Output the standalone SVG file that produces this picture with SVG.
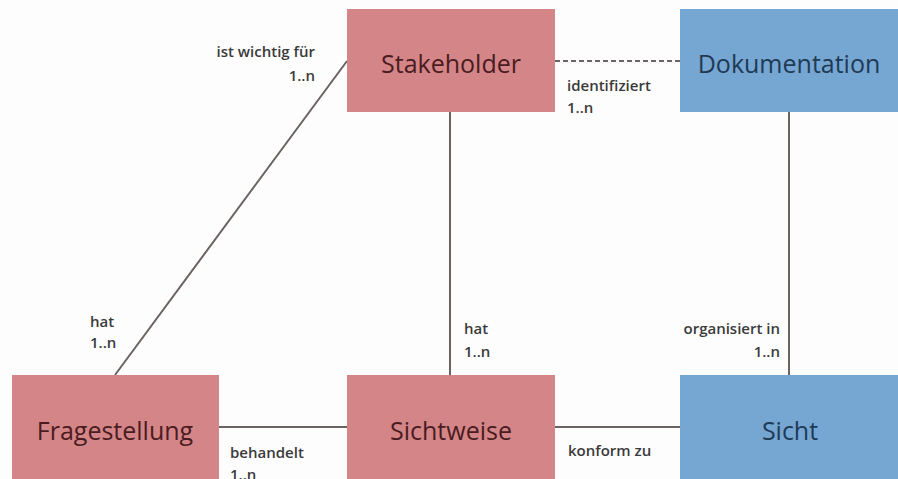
<svg xmlns="http://www.w3.org/2000/svg" width="898" height="479" viewBox="0 0 898 479">
<style>
.bg{fill:#fdfdfd}
.pink rect{fill:#d48588}
.blue rect{fill:#76a6d2}
.pink text{fill:#4a1c20}
.blue text{fill:#1e3a56}
.node text{font-family:"Open Sans","DejaVu Sans",sans-serif;font-size:25px;text-anchor:middle}
.conn line{stroke:#6b6262;stroke-width:2;fill:none}
.conn .dash{stroke-dasharray:5 3}
.lbl{font-family:"Open Sans","DejaVu Sans",sans-serif;font-size:15px;font-weight:600;fill:#3a3a3a}
.r{text-anchor:end}
</style>
<rect class="bg" x="0" y="0" width="898" height="479"/>
<g id="connectors" class="conn">
<line x1="115" y1="375" x2="347" y2="61"/>
<line x1="450" y1="112" x2="450" y2="375"/>
<line class="dash" x1="555" y1="61" x2="680" y2="61"/>
<line x1="789" y1="112" x2="789" y2="375"/>
<line x1="219" y1="427" x2="347" y2="427"/>
<line x1="555" y1="427" x2="680" y2="427"/>
</g>
<g id="labels">
<text class="lbl r" x="315" y="57">ist wichtig für</text>
<text class="lbl r" x="315" y="81">1..n</text>
<text class="lbl" x="567" y="91">identifiziert</text>
<text class="lbl" x="567" y="113">1..n</text>
<text class="lbl" x="90" y="327">hat</text>
<text class="lbl" x="90" y="348">1..n</text>
<text class="lbl" x="464" y="334">hat</text>
<text class="lbl" x="464" y="357">1..n</text>
<text class="lbl r" x="780" y="334">organisiert in</text>
<text class="lbl r" x="780" y="357">1..n</text>
<text class="lbl" x="230" y="458">behandelt</text>
<text class="lbl" x="230" y="480">1..n</text>
<text class="lbl" x="568" y="456">konform zu</text>
</g>
<g id="stakeholder" class="node pink">
<rect x="347" y="9" width="208" height="103"/>
<text x="451" y="73">Stakeholder</text>
</g>
<g id="dokumentation" class="node blue">
<rect x="680" y="9" width="218" height="103"/>
<text x="789" y="73">Dokumentation</text>
</g>
<g id="fragestellung" class="node pink">
<rect x="12" y="375" width="207" height="104"/>
<text x="115" y="440">Fragestellung</text>
</g>
<g id="sichtweise" class="node pink">
<rect x="347" y="375" width="208" height="104"/>
<text x="451" y="440">Sichtweise</text>
</g>
<g id="sicht" class="node blue">
<rect x="680" y="375" width="218" height="104"/>
<text x="790" y="440">Sicht</text>
</g>
</svg>
